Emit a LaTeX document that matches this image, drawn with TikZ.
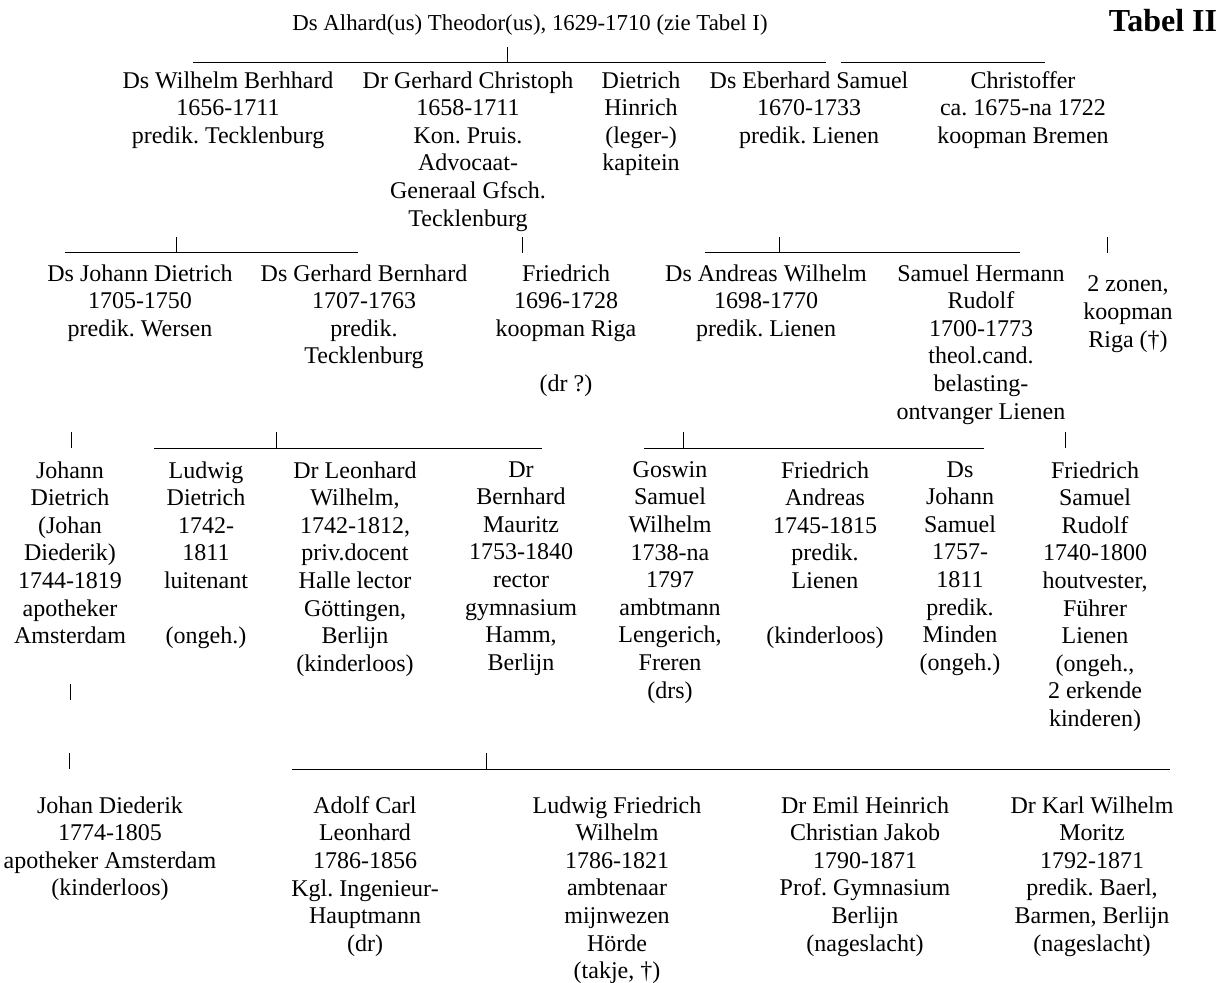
\documentclass[tikz,border=0pt]{standalone}
\usepackage{fontspec}
\setmainfont{Liberation Serif}
\frenchspacing
\begin{document}
\begin{tikzpicture}[x=0.5pt,y=-0.5pt,
    person/.style={align=center,anchor=north,inner sep=0pt,
      font=\fontsize{12}{13.8}\selectfont,execute at begin node=\strut},
    heading/.style={anchor=base,inner sep=0pt,font=\fontsize{11.4}{13.8}\selectfont},
    bar/.style={line width=0.5pt}]
  \useasboundingbox (0,0) rectangle (1229,983);
  \node[heading] (alhard) at (530,31) {Ds Alhard(us) Theodor(us), 1629-1710 (zie Tabel I)};
  \node[heading,font=\fontsize{16}{18}\selectfont\bfseries] (tabel) at (1163,32) {Tabel II};

  \coordinate (g1l) at (193,63);
  \coordinate (g1r) at (826,63);
  \coordinate (g1p) at (507,63);
  \coordinate (g1t) at (507,47);
  \coordinate (g1l2) at (841,63);
  \coordinate (g1r2) at (1045,63);
  \draw[bar] (g1l) -- (g1r);
  \draw[bar] (g1p) -- (g1t);
  \draw[bar] (g1l2) -- (g1r2);

  \node[person] (wilhelm) at (228,71) {Ds Wilhelm Berhhard\\1656-1711\\predik. Tecklenburg};
  \node[person] (gerhard) at (468,71) {Dr Gerhard Christoph\\1658-1711\\Kon. Pruis.\\Advocaat-\\Generaal Gfsch.\\Tecklenburg};
  \node[person] (dietrich) at (641,71) {Dietrich\\Hinrich\\(leger-)\\kapitein};
  \node[person] (eberhard) at (809,71) {Ds Eberhard Samuel\\1670-1733\\predik. Lienen};
  \node[person] (christoffer) at (1023,71) {Christoffer\\ca. 1675-na 1722\\koopman Bremen};

  \coordinate (g2l) at (65,253);
  \coordinate (g2r) at (358,253);
  \coordinate (g2p) at (176,253);
  \coordinate (g2t) at (176,237);
  \coordinate (g2q) at (522,253);
  \coordinate (g2u) at (522,237);
  \coordinate (g2l2) at (705,253);
  \coordinate (g2r2) at (1020,253);
  \coordinate (g2p2) at (779,253);
  \coordinate (g2t2) at (779,237);
  \coordinate (g2q2) at (1107,253);
  \coordinate (g2u2) at (1107,237);
  \draw[bar] (g2l) -- (g2r);
  \draw[bar] (g2p) -- (g2t);
  \draw[bar] (g2q) -- (g2u);
  \draw[bar] (g2l2) -- (g2r2);
  \draw[bar] (g2p2) -- (g2t2);
  \draw[bar] (g2q2) -- (g2u2);

  \node[person] (johdietrich) at (140,264) {Ds Johann Dietrich\\1705-1750\\predik. Wersen};
  \node[person] (gerbernhard) at (364,264) {Ds Gerhard Bernhard\\1707-1763\\predik.\\Tecklenburg};
  \node[person] (friedrich) at (566,264) {Friedrich\\1696-1728\\koopman Riga\\~\\(dr ?)};
  \node[person] (andreas) at (766,264) {Ds Andreas Wilhelm\\1698-1770\\predik. Lienen};
  \node[person] (samhermann) at (981,264) {Samuel Hermann\\Rudolf\\1700-1773\\theol.cand.\\belasting-\\ontvanger Lienen};
  \node[person] (zonen) at (1128,264) {~\\2 zonen,\\koopman\\Riga (†)};

  \coordinate (g3q) at (71,448);
  \coordinate (g3u) at (71,432);
  \coordinate (g3l) at (154,448);
  \coordinate (g3r) at (542,448);
  \coordinate (g3p) at (276,448);
  \coordinate (g3t) at (276,432);
  \coordinate (g3l2) at (644,448);
  \coordinate (g3r2) at (984,448);
  \coordinate (g3p2) at (683,448);
  \coordinate (g3t2) at (683,432);
  \coordinate (g3q2) at (1065,448);
  \coordinate (g3u2) at (1065,432);
  \draw[bar] (g3q) -- (g3u);
  \draw[bar] (g3l) -- (g3r);
  \draw[bar] (g3p) -- (g3t);
  \draw[bar] (g3l2) -- (g3r2);
  \draw[bar] (g3p2) -- (g3t2);
  \draw[bar] (g3q2) -- (g3u2);

  \node[person] (johann) at (70,461) {Johann\\Dietrich\\(Johan\\Diederik)\\1744-1819\\apotheker\\Amsterdam};
  \node[person] (ludwig) at (206,461) {Ludwig\\Dietrich\\1742-\\1811\\luitenant\\~\\(ongeh.)};
  \node[person] (leonhard) at (355,461) {Dr Leonhard\\Wilhelm,\\1742-1812,\\priv.docent\\Halle lector\\Göttingen,\\Berlijn\\(kinderloos)};
  \node[person] (bernhard) at (521,461) {Dr\\Bernhard\\Mauritz\\1753-1840\\rector\\gymnasium\\Hamm,\\Berlijn};
  \node[person] (goswin) at (670,461) {Goswin\\Samuel\\Wilhelm\\1738-na\\1797\\ambtmann\\Lengerich,\\Freren\\(drs)};
  \node[person] (friandreas) at (825,461) {Friedrich\\Andreas\\1745-1815\\predik.\\Lienen\\~\\(kinderloos)};
  \node[person] (johsamuel) at (960,461) {Ds\\Johann\\Samuel\\1757-\\1811\\predik.\\Minden\\(ongeh.)};
  \node[person] (frisamuel) at (1095,461) {Friedrich\\Samuel\\Rudolf\\1740-1800\\houtvester,\\Führer\\Lienen\\(ongeh.,\\2 erkende\\kinderen)};

  \coordinate (g4s) at (70,700);
  \coordinate (g4v) at (70,684);
  \draw[bar] (g4s) -- (g4v);
  \coordinate (g4q) at (69,769);
  \coordinate (g4u) at (69,753);
  \coordinate (g4l) at (292,769);
  \coordinate (g4r) at (1170,769);
  \coordinate (g4p) at (486,769);
  \coordinate (g4t) at (486,753);
  \draw[bar] (g4q) -- (g4u);
  \draw[bar] (g4l) -- (g4r);
  \draw[bar] (g4p) -- (g4t);

  \node[person] (johan) at (110,796) {Johan Diederik\\1774-1805\\apotheker Amsterdam\\(kinderloos)};
  \node[person] (adolf) at (365,796) {Adolf Carl\\Leonhard\\1786-1856\\Kgl. Ingenieur-\\Hauptmann\\(dr)};
  \node[person] (ludfriedrich) at (617,796) {Ludwig Friedrich\\Wilhelm\\1786-1821\\ambtenaar\\mijnwezen\\Hörde\\(takje, †)};
  \node[person] (emil) at (865,796) {Dr Emil Heinrich\\Christian Jakob\\1790-1871\\Prof. Gymnasium\\Berlijn\\(nageslacht)};
  \node[person] (karl) at (1092,796) {Dr Karl Wilhelm\\Moritz\\1792-1871\\predik. Baerl,\\Barmen, Berlijn\\(nageslacht)};
\end{tikzpicture}
\end{document}
